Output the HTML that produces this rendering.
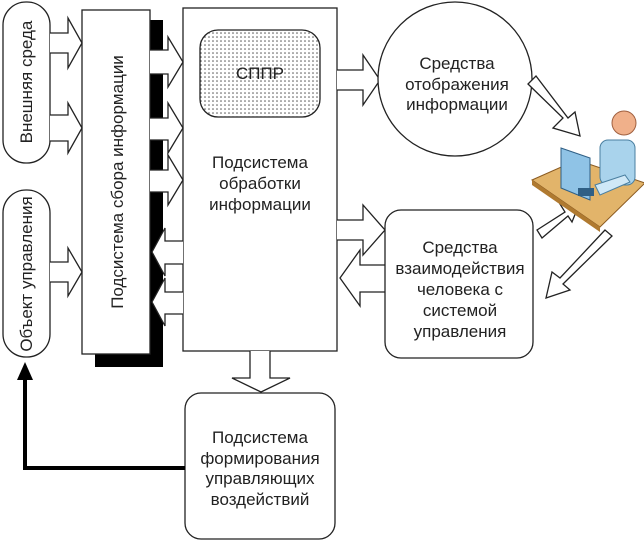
<!DOCTYPE html>
<html><head><meta charset="utf-8"><style>
html,body{margin:0;padding:0;background:#fff;}
svg{display:block;}
text{font-family:"Liberation Sans",sans-serif;font-size:17px;fill:#222;}
</style></head><body>
<svg width="644" height="542" viewBox="0 0 644 542" xmlns="http://www.w3.org/2000/svg">
<defs>
<pattern id="dots" width="4" height="4" patternUnits="userSpaceOnUse"><rect width="4" height="4" fill="#fff"/><circle cx="1" cy="1" r="0.8" fill="#555"/></pattern>
</defs>
<g stroke="#222" stroke-width="1.3" fill="#fff">
<rect x="3" y="2" width="47" height="161" rx="23"/>
<rect x="3" y="190" width="47" height="167" rx="23"/>
<rect x="95" y="20" width="68" height="347" fill="#000" stroke="none"/>
<rect x="82" y="10" width="68" height="344"/>
<rect x="183" y="8" width="154" height="343"/>
<rect x="200" y="30" width="120" height="87" rx="18" fill="url(#dots)"/>
<path d="M50 33 H68 V18 L82 43 L68 68 V53 H50"/>
<path d="M50 115 H68 V103 L82 128 L68 153 V141 H50"/>
<path d="M50 262 H68 V248 L82 272 L68 296 V282 H50"/>
<path d="M150 50 H168 V37 L183 62 L168 87 V74 H150"/>
<path d="M150 118 H168 V103 L183 128 L168 153 V140 H150"/>
<path d="M150 170 H168 V155 L183 180 L168 205 V192 H150"/>
<path d="M183 241 H165 V228 L152 252 L165 276 V264 H183"/>
<path d="M183 292 H165 V278 L152 302 L165 326 V314 H183"/>
<path d="M337 70 H363 V55 L380 80 L363 105 V90 H337"/>
<path d="M337 220 H363 V205 L385 230 L363 255 V240 H337"/>
<path d="M385 265 H360 V250 L340 278 L360 306 V292 H385"/>
<path d="M250 351 V378 H232 L261 392 L290 378 H270 V351"/>
<circle cx="455" cy="79" r="77"/>
<rect x="385" y="210" width="148" height="148" rx="16"/>
<rect x="185" y="393" width="150" height="146" rx="16"/>
<path d="M528 84 L563 118 L553 128 L580 136 L575 112 L568 118 L536 76 Z"/>
<path d="M537 230 L565 212 L560 204 L580 202 L572 222 L568 216 L542 238 Z"/>
<path d="M605 230 L560 278 L552 272 L546 298 L570 290 L563 284 L612 236 Z"/>
</g>
<path d="M185 468 H25 V378" stroke="#000" stroke-width="4" fill="none"/>
<path d="M17 380 L25 362 L33 380 Z" fill="#000"/>
<polygon points="532,180 577,160 645,183 600,227" fill="#e2b46a" stroke="#8a5a20" stroke-width="1"/>
<polygon points="532,180 600,227 600,232 532,185" fill="#b07a30"/>
<rect x="600" y="140" width="35" height="45" rx="8" fill="#a9d3ec" stroke="#4a7fa0"/>
<circle cx="624" cy="123" r="12" fill="#f0b08a" stroke="#a06040"/>
<polygon points="561,148 590,158 590,200 561,188" fill="#8fc3e6" stroke="#2f5f85"/>
<rect x="578" y="188" width="16" height="8" fill="#2f5f85"/>
<path d="M595 185 L625 175 L630 182 L600 195 Z" fill="#cfe8f7" stroke="#4a7fa0"/>
<text transform="translate(32,82) rotate(-90)" text-anchor="middle">Внешняя среда</text>
<text transform="translate(32,274) rotate(-90)" text-anchor="middle">Объект управления</text>
<text transform="translate(123,182) rotate(-90)" text-anchor="middle">Подсистема сбора информации</text>
<text x="260" y="79" text-anchor="middle">СППР</text>
<text x="260" y="168" text-anchor="middle">Подсистема</text>
<text x="260" y="189" text-anchor="middle">обработки</text>
<text x="260" y="210" text-anchor="middle">информации</text>
<text x="457" y="69" text-anchor="middle">Средства</text>
<text x="457" y="90" text-anchor="middle">отображения</text>
<text x="457" y="110" text-anchor="middle">информации</text>
<text x="460" y="253" text-anchor="middle">Средства</text>
<text x="460" y="274" text-anchor="middle">взаимодействия</text>
<text x="460" y="295" text-anchor="middle">человека с</text>
<text x="460" y="316" text-anchor="middle">системой</text>
<text x="460" y="337" text-anchor="middle">управления</text>
<text x="260" y="443" text-anchor="middle">Подсистема</text>
<text x="260" y="464" text-anchor="middle">формирования</text>
<text x="260" y="484" text-anchor="middle">управляющих</text>
<text x="260" y="505" text-anchor="middle">воздействий</text>
</svg>
</body></html>
